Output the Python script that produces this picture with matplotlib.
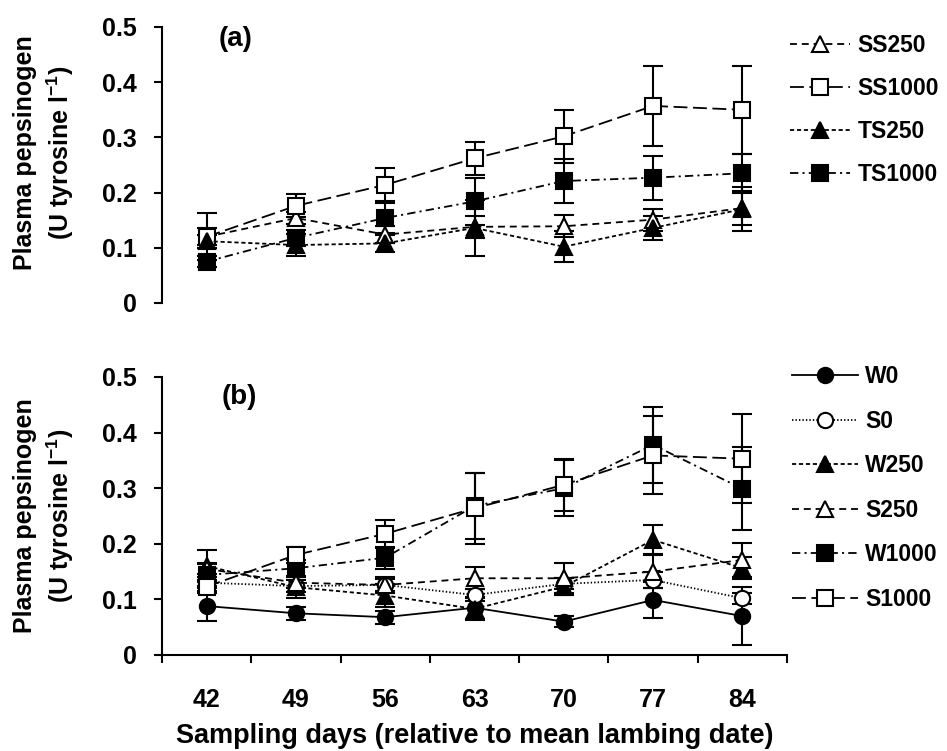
import matplotlib
matplotlib.use("Agg")
import matplotlib.pyplot as plt
from matplotlib.ticker import FixedLocator

plt.rcParams['font.family'] = ['Liberation Sans', 'DejaVu Sans']
plt.rcParams['font.weight'] = 'bold'
plt.rcParams['axes.labelweight'] = 'bold'
plt.rcParams['mathtext.fontset'] = 'custom'
plt.rcParams['mathtext.rm'] = 'Liberation Sans:bold'
plt.rcParams['mathtext.it'] = 'Liberation Sans:bold'
plt.rcParams['mathtext.bf'] = 'Liberation Sans:bold'
plt.rcParams['lines.scale_dashes'] = False

# ---------------- data ----------------
days = ['42', '49', '56', '63', '70', '77', '84']
ytick_labels = ['0', '0.1', '0.2', '0.3', '0.4', '0.5']
ytick_values = [0, 0.1, 0.2, 0.3, 0.4, 0.5]

# panel (a)
SS250 = [0.120, 0.154, 0.124, 0.138, 0.139, 0.151, 0.172]
SS1000 = [0.120, 0.176, 0.214, 0.262, 0.302, 0.357, 0.350]
TS250 = [0.112, 0.105, 0.108, 0.136, 0.102, 0.136, 0.170]
TS1000 = [0.075, 0.118, 0.154, 0.184, 0.221, 0.227, 0.235]
SS250_err = [0.015, 0.010, 0.015, 0.020, 0.020, 0.020, 0.030]
SS1000_err = [0.043, 0.021, 0.030, 0.030, 0.048, 0.072, 0.080]
TS250_err = [0.012, 0.020, 0.016, 0.050, 0.028, 0.022, 0.040]
TS1000_err = [0.010, 0.015, 0.028, 0.042, 0.040, 0.040, 0.035]

# panel (b)
W0 = [0.088, 0.075, 0.068, 0.085, 0.060, 0.099, 0.070]
S0 = [0.130, 0.124, 0.126, 0.108, 0.128, 0.135, 0.102]
W250 = [0.160, 0.122, 0.107, 0.083, 0.123, 0.207, 0.156]
S250 = [0.155, 0.130, 0.126, 0.138, 0.138, 0.150, 0.171]
W1000 = [0.144, 0.156, 0.175, 0.268, 0.300, 0.378, 0.299]
S1000 = [0.123, 0.180, 0.218, 0.264, 0.306, 0.359, 0.353]
W0_err = [0.027, 0.012, 0.012, 0.020, 0.010, 0.033, 0.052]
S0_err = [0.010, 0.010, 0.010, 0.010, 0.010, 0.015, 0.010]
W250_err = [0.029, 0.020, 0.020, 0.020, 0.015, 0.026, 0.020]
S250_err = [0.010, 0.010, 0.015, 0.020, 0.027, 0.030, 0.030]
W1000_err = [0.020, 0.015, 0.020, 0.060, 0.050, 0.068, 0.075]
S1000_err = [0.012, 0.015, 0.025, 0.064, 0.047, 0.070, 0.080]

# ---------------- styles ----------------
DASHED = (0, (5, 3.5))
LONGDASH = (0, (10, 4))
SHORTDASH = (0, (3, 2))
DASHDOT = (0, (6, 3, 1.5, 3))
DOTTED = (0, (1, 1.5))
SOLID = '-'

x = list(range(len(days)))

W, H = 947, 751
fig = plt.figure(figsize=(W / 100, H / 100), dpi=100)
axa = fig.add_axes([162 / W, 1 - 303 / H, 625 / W, 276 / H])
axb = fig.add_axes([162 / W, 1 - 655 / H, 625 / W, 278 / H])

LW = 1.3
MEW = 1.5


def series(ax, y, err, ls, marker, face, ms):
    ax.errorbar(x, y, yerr=err, fmt='none', ecolor='black', elinewidth=1.5,
                capsize=7, capthick=1.5, zorder=2, clip_on=False)
    ln, = ax.plot(x, y, linestyle=ls, color='black', lw=LW, marker=marker,
                  markersize=ms, markerfacecolor=face, markeredgecolor='black',
                  markeredgewidth=MEW, zorder=3, clip_on=False)
    return ln


for ax in (axa, axb):
    ax.set_xlim(-0.5, 6.5)
    ax.set_ylim(0, 0.5)
    ax.set_yticks(ytick_values)
    ax.set_yticklabels(ytick_labels)
    ax.tick_params(axis='y', direction='out', length=6, width=1.5, pad=12,
                   labelsize=18)
    for s in ('top', 'right'):
        ax.spines[s].set_visible(False)
    ax.spines['left'].set_linewidth(1.5)
    ax.spines['bottom'].set_linewidth(1.5)

# panel (a)
ha = []
ha.append(series(axa, SS250, SS250_err, DASHED, '^', 'white', 11.5))
ha.append(series(axa, SS1000, SS1000_err, LONGDASH, 's', 'white', 11))
ha.append(series(axa, TS250, TS250_err, SHORTDASH, '^', 'black', 11.5))
ha.append(series(axa, TS1000, TS1000_err, DASHDOT, 's', 'black', 11))
axa.spines['bottom'].set_visible(False)
axa.set_xticks([])

# panel (b)
hb = []
hb.append(series(axb, W0, W0_err, SOLID, 'o', 'black', 11))
hb.append(series(axb, S0, S0_err, DOTTED, 'o', 'white', 11))
hb.append(series(axb, W250, W250_err, SHORTDASH, '^', 'black', 11.5))
hb.append(series(axb, S250, S250_err, DASHED, '^', 'white', 11.5))
hb.append(series(axb, W1000, W1000_err, DASHDOT, 's', 'black', 11))
hb.append(series(axb, S1000, S1000_err, LONGDASH, 's', 'white', 11))

axb.set_xticks(x)
axb.set_xticklabels(days)
axb.xaxis.set_minor_locator(FixedLocator([i - 0.5 for i in range(len(days) + 1)]))
axb.tick_params(axis='x', which='major', length=0, pad=24, labelsize=18)
axb.tick_params(axis='x', which='minor', direction='out', length=6, width=1.5)
axb.set_xlabel("Sampling days (relative to mean lambing date)", fontsize=19.5,
               fontweight='bold', labelpad=8)

# y labels (two lines)
fig.text(25 / W, 1 - 153 / H, "Plasma pepsinogen", rotation=90, ha='center',
         va='center', fontsize=18)
fig.text(60 / W, 1 - 153 / H, r"(U tyrosine l$^{-1}$)", rotation=90, ha='center',
         va='center', fontsize=18)
fig.text(25 / W, 1 - 516 / H, "Plasma pepsinogen", rotation=90, ha='center',
         va='center', fontsize=18)
fig.text(60 / W, 1 - 516 / H, r"(U tyrosine l$^{-1}$)", rotation=90, ha='center',
         va='center', fontsize=18)

# panel labels
axa.text(0.09, 0.957, "(a)", transform=axa.transAxes, ha='left', va='center',
         fontsize=20)
axb.text(0.096, 0.928, "(b)", transform=axb.transAxes, ha='left', va='center',
         fontsize=20)

labels_a = ['SS250', 'SS1000', 'TS250', 'TS1000']
labels_b = ['W0', 'S0', 'W250', 'S250', 'W1000', 'S1000']

fig.legend(ha, labels_a, loc='upper left', bbox_to_anchor=(790 / W, 1 - 34 / H),
           frameon=False, prop={'weight': 'bold', 'size': 16.5},
           handlelength=2.6, handletextpad=0.35, labelspacing=0.87,
           borderpad=0, borderaxespad=0)
fig.legend(hb, labels_b, loc='upper left', bbox_to_anchor=(792 / W, 1 - 365 / H),
           frameon=False, prop={'weight': 'bold', 'size': 16.5},
           handlelength=2.9, handletextpad=0.3, labelspacing=0.94,
           borderpad=0, borderaxespad=0)

fig.savefig("out.png", dpi=100)
